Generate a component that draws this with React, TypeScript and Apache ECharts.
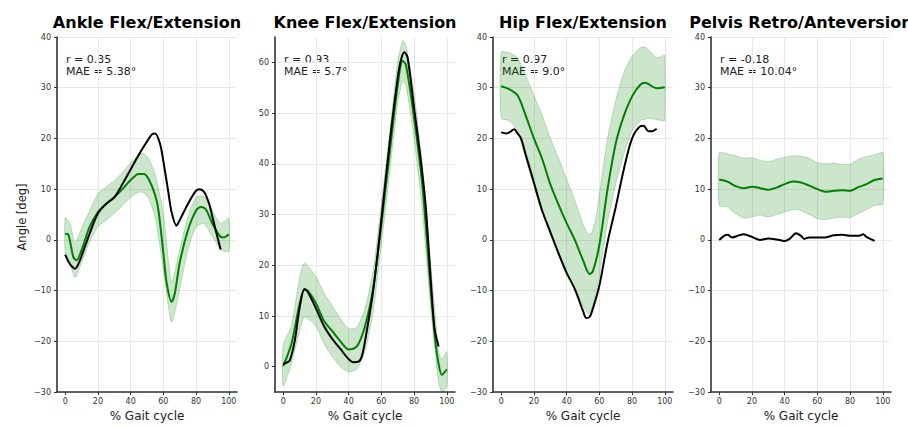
import React, { useEffect, useRef } from 'react';
import * as echarts from 'echarts';

const TITLES = ['Ankle Flex/Extension', 'Knee Flex/Extension', 'Hip Flex/Extension', 'Pelvis Retro/Anteversion'];
const R_TEXT = ['r = 0.35', 'r = 0.93', 'r = 0.97', 'r = -0.18'];
const MAE_TEXT = ['MAE = 5.38°', 'MAE = 5.7°', 'MAE = 9.0°', 'MAE = 10.04°'];
const X_TICKS = [0, 20, 40, 60, 80, 100];
const Y_TICKS_KNEE = [0, 10, 20, 30, 40, 50, 60];

// Ankle
const ankleMeanX = [0, 2, 5, 7, 10, 15, 20, 25, 30, 35, 40, 45, 48, 51, 55, 57, 60, 62, 65, 67, 70, 75, 80, 83, 86, 90, 95, 97, 100];
const ankleMeanY = [1.2, 1.0, -3.4, -4.0, -2.0, 2.6, 5.5, 7.1, 8.4, 10.0, 11.8, 13.0, 13.0, 12.0, 8.8, 5.8, -2.6, -8.5, -12.2, -10.5, -4.5, 1.9, 5.8, 6.5, 6.0, 3.2, 0.6, 0.5, 1.1];
const ankleBandX = [0, 3, 6, 10, 15, 20, 25, 30, 35, 40, 45, 48, 51, 55, 60, 65, 70, 75, 80, 85, 90, 95, 100];
const ankleUpper = [4.4, 3.2, -0.6, 2.3, 5.8, 9.1, 10.4, 11.7, 13.3, 15.2, 16.8, 17.0, 16.0, 13.0, 5.2, -8.3, -1.9, 4.5, 8.4, 8.5, 5.8, 3.2, 4.2];
const ankleLower = [-2.2, -4.5, -7.4, -4.5, -0.3, 2.6, 3.9, 5.2, 6.8, 8.4, 9.4, 9.3, 8.2, 4.5, -5.8, -16.2, -9.7, -1.9, 2.6, 3.2, 0.6, -1.9, -2.3];
const ankleMeasX = [0, 2, 4, 6, 8, 10, 15, 20, 25, 30, 35, 40, 45, 50, 53, 55, 58, 60, 63, 65, 68, 70, 75, 80, 82, 85, 88, 90, 93, 95];
const ankleMeasY = [-2.9, -4.3, -5.2, -5.7, -4.8, -3.2, 1.3, 5.2, 7.1, 8.4, 11.0, 13.9, 16.8, 19.4, 20.8, 21.0, 18.9, 15.5, 9.5, 5.5, 2.8, 3.9, 7.1, 9.7, 10.0, 9.4, 7.1, 4.5, 0.6, -1.9];

// Knee
const kneeMeanX = [0, 5, 10, 13, 15, 20, 25, 30, 35, 40, 45, 50, 55, 60, 65, 70, 73, 75, 80, 85, 90, 93, 95, 97, 100];
const kneeMeanY = [0.1, 4.5, 12.3, 15.2, 15.0, 12.5, 9.0, 7.0, 5.0, 3.4, 4.0, 8.0, 15.5, 28, 42, 55.5, 60.3, 59.5, 49, 36, 16, 5, 0.5, -1.6, -0.5];
const kneeBandX = [0, 5, 10, 13, 20, 25, 30, 35, 40, 45, 50, 55, 60, 65, 70, 73, 75, 80, 85, 90, 95, 97, 100];
const kneeUpper = [4.3, 8.0, 17.5, 20.4, 17.8, 14.5, 12.0, 9.5, 7.5, 7.8, 11.4, 19, 32, 46, 60, 64.3, 63.5, 54, 40, 21, 3, 1.5, 3];
const kneeLower = [-3.8, 0.5, 7.0, 9.8, 8.0, 4.5, 2.0, 0, -1.0, -0.5, 3, 11, 24, 38, 52, 56.3, 55.5, 45, 31, 12, -3, -5, -4];
const kneeMeasX = [0, 2, 4, 7, 10, 13, 15, 20, 25, 30, 35, 40, 43, 46, 48, 50, 55, 60, 65, 70, 72, 74, 76, 80, 84, 87, 90, 92.5, 95];
const kneeMeasY = [0.5, 0.8, 1.2, 5, 11.5, 15.3, 14.8, 11.5, 8.0, 5.5, 3.5, 1.5, 0.9, 1.0, 2.0, 5.0, 15, 29, 44, 57, 60.5, 62, 61, 51, 41, 32, 18, 7.5, 4];

// Hip
const hipMeanX = [0, 5, 10, 15, 20, 25, 30, 35, 40, 45, 50, 54, 56, 60, 65, 70, 75, 80, 85, 88, 90, 95, 100];
const hipMeanY = [30.3, 29.7, 28.5, 24.5, 20.0, 16.0, 11.0, 7.0, 3.3, 0, -4.0, -6.7, -6.2, -1, 10, 19, 24.5, 28.3, 30.6, 31.0, 30.7, 29.9, 30.1];
const hipBandX = [0, 5, 10, 15, 20, 25, 30, 35, 40, 45, 50, 53, 55, 58, 60, 65, 70, 75, 80, 85, 88, 90, 95, 98, 100];
const hipUpper = [37.0, 36.9, 35.9, 32.4, 28.5, 24.6, 20.1, 16.2, 12.0, 7.8, 3.2, 1.2, 1.2, 4.5, 9, 20, 27.5, 33.0, 36.2, 37.9, 38.0, 37.5, 35.9, 36.2, 36.4];
const hipLower = [24, 23.5, 21.5, 16, 10.5, 5.5, 1, -3, -6.5, -9.5, -13, -14.5, -14, -10, -7, 3.5, 11, 17, 21.5, 23.5, 23.8, 24, 23.7, 23.5, 23.5];
const hipMeasX = [0, 3, 5, 8, 10, 12, 15, 20, 25, 30, 35, 40, 45, 50, 52, 54, 56, 60, 65, 70, 75, 80, 85, 87, 90, 92, 95];
const hipMeasY = [21.2, 21.0, 21.2, 21.8, 21.0, 20.1, 16.8, 11.3, 5.8, 1.6, -2.6, -6.5, -9.7, -14.0, -15.4, -15.2, -13.6, -9, -0.5, 6.5, 14, 20, 22.4, 22.5, 21.4, 21.4, 21.9];

// Pelvis
const pelvisBandX = [0, 5, 10, 15, 20, 25, 30, 35, 40, 45, 50, 55, 60, 65, 70, 75, 80, 85, 90, 95, 100];
const pelvisMeanY = [11.9, 11.5, 10.6, 10.2, 10.5, 10.2, 9.9, 10.3, 11.0, 11.5, 11.3, 10.7, 10.0, 9.5, 9.7, 9.8, 9.7, 10.4, 11.0, 11.8, 12.1];
const pelvisUpper = [17.2, 17.0, 16.6, 16.1, 16.2, 15.7, 15.4, 15.9, 16.3, 16.6, 16.5, 16.1, 15.2, 15.0, 15.1, 14.9, 14.9, 15.9, 16.4, 16.8, 17.2];
const pelvisLower = [6.8, 6.5, 5.2, 4.3, 4.5, 4.9, 4.5, 5.0, 5.5, 6.0, 5.8, 5.0, 4.2, 4.0, 4.3, 4.5, 4.4, 5.2, 6.0, 6.8, 7.1];
const pelvisMeasX = [0, 3, 5, 8, 12, 15, 20, 25, 30, 35, 40, 43, 47, 50, 52, 55, 60, 65, 70, 75, 80, 85, 88, 90, 95];
const pelvisMeasY = [0.0, 0.8, 1.0, 0.5, 0.9, 1.1, 0.6, 0.0, 0.3, 0.1, -0.2, 0.2, 1.3, 0.8, 0.2, 0.5, 0.5, 0.5, 0.9, 1.0, 0.8, 0.8, 1.1, 0.6, -0.2];

const PANELS = [
  { meanX: ankleMeanX, meanY: ankleMeanY, bandX: ankleBandX, upper: ankleUpper, lower: ankleLower, measX: ankleMeasX, measY: ankleMeasY },
  { meanX: kneeMeanX, meanY: kneeMeanY, bandX: kneeBandX, upper: kneeUpper, lower: kneeLower, measX: kneeMeasX, measY: kneeMeasY },
  { meanX: hipMeanX, meanY: hipMeanY, bandX: hipBandX, upper: hipUpper, lower: hipLower, measX: hipMeasX, measY: hipMeasY },
  { meanX: pelvisBandX, meanY: pelvisMeanY, bandX: pelvisBandX, upper: pelvisUpper, lower: pelvisLower, measX: pelvisMeasX, measY: pelvisMeasY },
];

const FONT = 'DejaVu Sans';
const GRID_LEFT = [57, 275, 493, 711];
const GRID_W = 180;
const GRID_TOP = 37;
const GRID_H = 361;
const GRIDC = '#e8e8e8';
const AXC = '#333333';

const zip = (xs: number[], ys: number[]) => xs.map((x, i) => [x, ys[i]]);

export default function App() {
  const ref = useRef<HTMLDivElement>(null);
  useEffect(() => {
    document.body.style.margin = '0';
    const chart = echarts.init(ref.current!, null, { renderer: 'svg' });
    const grids: any[] = [];
    const xAxes: any[] = [];
    const yAxes: any[] = [];
    const series: any[] = [];
    const graphics: any[] = [];

    PANELS.forEach((p, i) => {
      grids.push({ left: GRID_LEFT[i], top: GRID_TOP, width: GRID_W, height: GRID_H });
      xAxes.push({
        gridIndex: i, type: 'value', min: -5, max: 105, splitNumber: 5,
        axisLine: { show: true, onZero: false, lineStyle: { color: AXC, width: 1.6 } },
        axisTick: { show: true, length: 3, customValues: X_TICKS, lineStyle: { color: AXC } },
        axisLabel: { customValues: X_TICKS, fontSize: 8, color: '#333', margin: 5, fontFamily: FONT },
        splitLine: { show: true, lineStyle: { color: ['transparent', GRIDC, GRIDC, GRIDC, GRIDC, GRIDC, GRIDC, 'transparent'], width: 1 } },
        name: '% Gait cycle', nameLocation: 'middle', nameGap: 17,
        nameTextStyle: { fontSize: 12, color: '#222', fontFamily: FONT },
      });
      if (i === 1) {
        yAxes.push({
          gridIndex: i, type: 'value', min: -5, max: 65, splitNumber: 7,
          axisLine: { show: true, onZero: false, lineStyle: { color: AXC, width: 1.6 } },
          axisTick: { show: true, length: 3, customValues: Y_TICKS_KNEE, lineStyle: { color: AXC } },
          axisLabel: { customValues: Y_TICKS_KNEE, fontSize: 8, color: '#333', margin: 6, fontFamily: FONT },
          splitLine: { show: true, lineStyle: { color: ['transparent', GRIDC, GRIDC, GRIDC, GRIDC, GRIDC, GRIDC, GRIDC, 'transparent'], width: 1 } },
        });
      } else {
        yAxes.push({
          gridIndex: i, type: 'value', min: -30, max: 40, interval: 10,
          axisLine: { show: true, onZero: false, lineStyle: { color: AXC, width: 1.6 } },
          axisTick: { show: true, length: 3, lineStyle: { color: AXC } },
          axisLabel: { fontSize: 8, color: '#333', margin: 6, fontFamily: FONT,
            formatter: (v: number) => (v < 0 ? '\u2212' + Math.abs(v) : String(v)) },
          splitLine: { show: true, lineStyle: { color: GRIDC, width: 1 } },
        });
      }
      const bx = p.bandX, lo = p.lower, up = p.upper;
      series.push({
        type: 'custom', xAxisIndex: i, yAxisIndex: i, clip: true, z: 1,
        data: [[bx[0], lo[0]]],
        encode: { x: 0, y: 1 },
        renderItem: (params: any, api: any) => {
          const pts: number[][] = [];
          for (let k = 0; k < bx.length; k++) pts.push(api.coord([bx[k], lo[k]]));
          for (let k = bx.length - 1; k >= 0; k--) pts.push(api.coord([bx[k], up[k]]));
          return {
            type: 'polygon',
            shape: { points: pts, smooth: 0.2 },
            style: { fill: 'rgba(0,128,0,0.2)', stroke: 'rgba(0,128,0,0.22)', lineWidth: 1 },
          };
        },
        silent: true,
      });
      series.push({
        type: 'line', xAxisIndex: i, yAxisIndex: i, data: zip(p.meanX, p.meanY),
        showSymbol: false, symbol: 'none', smooth: 0.3, z: 3,
        lineStyle: { color: '#008000', width: 2 }, silent: true,
      });
      series.push({
        type: 'line', xAxisIndex: i, yAxisIndex: i, data: zip(p.measX, p.measY),
        showSymbol: false, symbol: 'none', smooth: 0.3, z: 4,
        lineStyle: { color: '#000000', width: 2 }, silent: true,
      });

      graphics.push({
        type: 'text', x: GRID_LEFT[i] + GRID_W / 2, y: 22, silent: true,
        style: { text: TITLES[i], font: `bold 16px "${FONT}"`, fill: '#000', textAlign: 'center', textVerticalAlign: 'middle' },
      });
      graphics.push({
        type: 'text', x: GRID_LEFT[i] + 9, y: 59, silent: true,
        style: { text: R_TEXT[i], font: `11px "${FONT}"`, fill: '#222', textAlign: 'left', textVerticalAlign: 'middle' },
      });
      graphics.push({
        type: 'text', x: GRID_LEFT[i] + 9, y: 71.5, silent: true,
        style: { text: MAE_TEXT[i], font: `11px "${FONT}"`, fill: '#222', textAlign: 'left', textVerticalAlign: 'middle' },
      });
    });

    graphics.push({
      type: 'text', x: 22, y: 217, rotation: Math.PI / 2, silent: true,
      style: { text: 'Angle [deg]', font: `11.5px "${FONT}"`, fill: '#222', textAlign: 'center', textVerticalAlign: 'middle' },
    });

    chart.setOption({
      animation: false,
      backgroundColor: '#ffffff',
      grid: grids,
      xAxis: xAxes,
      yAxis: yAxes,
      series,
      graphic: graphics,
    });
    return () => chart.dispose();
  }, []);
  return <div ref={ref} style={{ width: 908, height: 427 }} />;
}
